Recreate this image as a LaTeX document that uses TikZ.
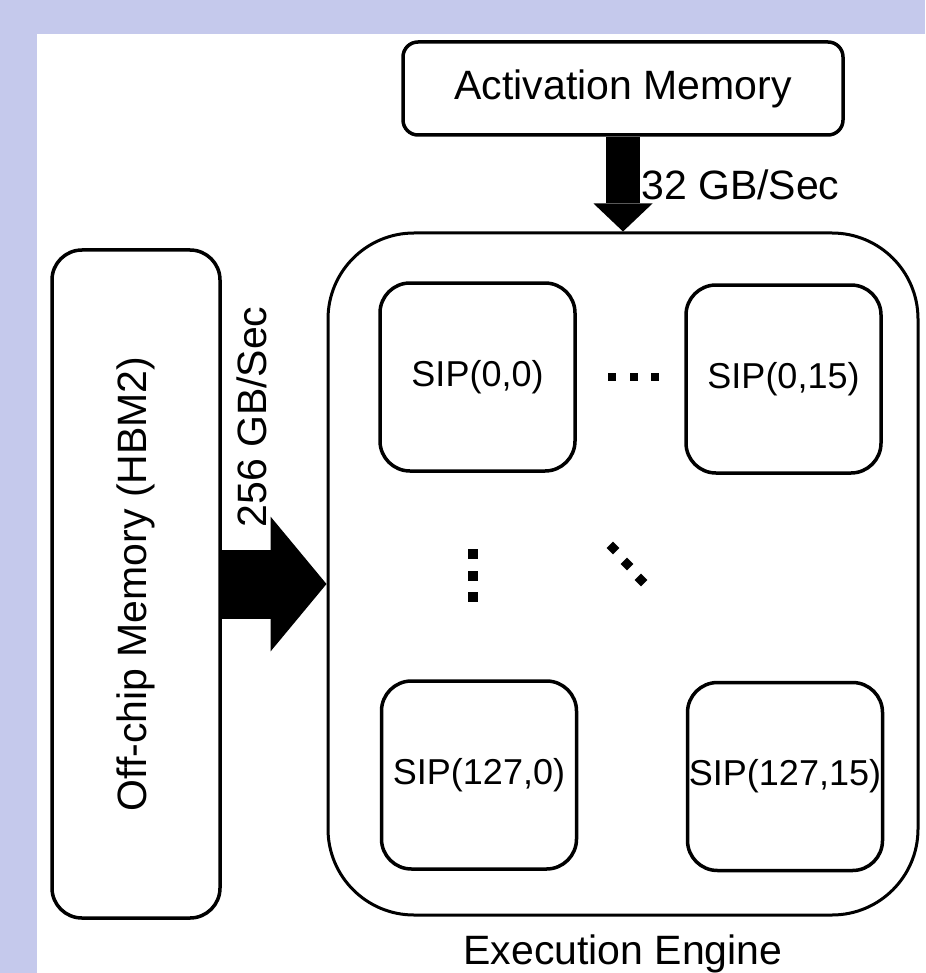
\documentclass[tikz,border=0pt]{standalone}
\usepackage{fontspec}
\setmainfont{Liberation Sans}
\usetikzlibrary{arrows.meta}
\definecolor{slidebg}{RGB}{197,201,236}

\begin{document}
\begin{tikzpicture}[x=1pt,y=-1pt,
  membox/.style={draw,line width=3.5pt,inner sep=0pt},
  sipbox/.style={draw,line width=3.5pt,rounded corners=30pt,inner sep=0pt,minimum width=195pt,minimum height=188pt,font=\fontsize{36}{40}\selectfont},
  bigtext/.style={font=\fontsize{41}{48}\selectfont,inner sep=0pt}]
\useasboundingbox (0,0) rectangle (925,973);

%Shape: Background
\fill[slidebg] (0,0) rectangle (925,973);
\fill[white] (37,34) rectangle (925,973);

%Shape: Rounded Rect (memories and engine)
\node[membox,bigtext,rounded corners=15pt,minimum width=440pt,minimum height=93pt] (actmem) at (623,88.5) {Activation Memory};
\node[membox,line width=3pt,rounded corners=86pt,minimum width=590pt,minimum height=682pt] (engine) at (623,574) {};
\node[membox,rounded corners=30pt,minimum width=168pt,minimum height=668pt] (offchip) at (136,584) {};

%Shape: Rounded Rect (SIPs)
\node[sipbox] (sip00) at (477.5,377) {SIP(0,0)};
\node[sipbox] (sip015) at (783.5,379) {SIP(0,15)};
\node[sipbox] (sip1270) at (479,775) {SIP(127,0)};
\node[sipbox] (sip12715) at (785,776.5) {SIP(127,15)};

%Fat Arrows
\draw[line width=34pt,-{Triangle[width=59pt,length=28pt,line width=0pt]}] (actmem.south) -- (actmem.south |- engine.north);
\draw[line width=69pt,-{Triangle[width=135pt,length=56pt,line width=0pt]}] (offchip.east) -- (offchip.east -| engine.west);

%Dots
\foreach \x in {612,634,655} \fill (\x-4,373) rectangle (\x+4,381);
\foreach \y in {554,576,597} \fill (468,\y-5) rectangle (478,\y+5);
\foreach \x/\y in {613/548,627/564,641/580} \fill[rotate around={45:(\x,\y)}] (\x-4.5,\y-4.5) rectangle (\x+4.5,\y+4.5);

% Text Node
\node[bigtext,rotate=90] (offchiptxt) at (offchip.center) {Off-chip Memory (HBM2)};
% Text Node
\node[bigtext,anchor=west] (bw32) at (641,185) {32 GB/Sec};
% Text Node
\node[bigtext,rotate=90] (bw256) at (252,417) {256 GB/Sec};
% Text Node
\node[bigtext,anchor=base] (engtxt) at (623,964) {Execution Engine};

\end{tikzpicture}
\end{document}
